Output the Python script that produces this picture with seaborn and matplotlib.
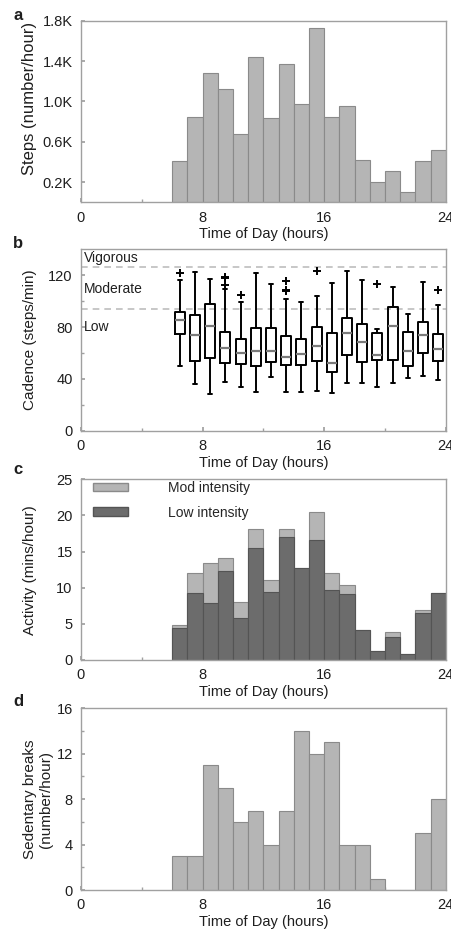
import numpy as np
import pandas as pd
import matplotlib
matplotlib.use('Agg')
import matplotlib.pyplot as plt
from matplotlib.patches import Patch
import seaborn as sns

sns.set_theme(style='white')
plt.rcParams['font.family'] = ['Liberation Sans', 'DejaVu Sans']

### DATA ###
hours = list(range(6, 24))

# a: steps per hour
steps = [408, 843, 1282, 1127, 678, 1444, 837, 1371, 972, 1727,
         847, 959, 424, 200, 312, 101, 414, 517]
steps_ticks = [200, 600, 1000, 1400, 1800]
steps_ticklabels = ['0.2K', '0.6K', '1.0K', '1.4K', '1.8K']

# b: cadence box summary per hour (steps/min)
cad_lo  = [49.6, 35.9, 28.4, 37.2, 33.6, 29.5, 41.1, 30.0, 30.0,
           30.7, 29.2, 37.0, 37.0, 33.6, 37.0, 40.3, 42.4, 39.0]
cad_q1  = [74.4, 53.7, 56.3, 51.9, 51.4, 49.6, 53.0, 50.6, 50.9,
           53.5, 45.2, 58.1, 53.0, 54.3, 54.5, 49.6, 60.2, 53.5]
cad_med = [85.5, 73.9, 81.1, 63.8, 60.0, 61.8, 61.2, 56.6, 58.9,
           65.1, 52.4, 75.5, 68.7, 58.4, 81.1, 61.5, 73.9, 63.3]
cad_q3  = [91.5, 89.4, 97.9, 76.0, 70.8, 79.6, 79.6, 73.4, 70.8,
           80.1, 75.7, 87.3, 82.2, 75.2, 95.1, 76.0, 83.7, 74.7]
cad_hi  = [116.0, 122.7, 117.0, 109.0, 99.2, 121.4, 112.9, 101.4, 99.2,
           103.9, 114.2, 123.3, 116.3, 78.5, 111.1, 89.7, 115.0, 96.9]
out_hour = [6, 9, 9, 9, 10, 13, 13, 13, 15, 19, 23]
out_cad  = [122.0, 118.5, 117.5, 112.2, 105.0, 115.6, 108.9, 108.2, 123.5, 113.4, 108.3]
zone_lines = [126, 94]
zone_names = ['Vigorous', 'Moderate', 'Low']
zone_text_y = [133.5, 109, 80]

# c: activity minutes per hour
low_int = [4.43, 9.23, 7.93, 12.27, 5.76, 15.54, 9.36, 17.02, 12.77,
           16.56, 9.69, 9.18, 4.10, 1.25, 3.23, 0.83, 6.55, 9.20]
mod_int = [0.37, 2.77, 5.54, 1.80, 2.27, 2.63, 1.76, 1.15, 0.00,
           3.92, 2.31, 1.15, 0.00, 0.00, 0.60, 0.00, 0.32, 0.07]

# d: sedentary breaks per hour
breaks = [3, 3, 11, 9, 6, 7, 4, 7, 14, 12, 13, 4, 4, 1, 0, 0, 5, 8]

LIGHT, LIGHT_EDGE = '#b5b5b5', '#8a8a8a'
DARK, DARK_EDGE = '#6c6c6c', '#545454'
SPINE = '#a0a0a0'
TXT = '#1e1e1e'
bins = list(range(6, 25))  # one bin per hour; a list, not an array (seaborn compares bins to "auto")

fig = plt.figure(figsize=(4.52, 9.31), dpi=100)
W = 0.8069
axa = fig.add_axes([0.1792, 0.7827, W, 0.1951])
axb = fig.add_axes([0.1792, 0.5374, W, 0.1948])
axc = fig.add_axes([0.1792, 0.2911, W, 0.1941])
axd = fig.add_axes([0.1792, 0.0440, W, 0.1952])


def style(ax, ylabel, lab_x=-0.12, lab_y=0.5, lab_size=11):
    for s in ax.spines.values():
        s.set_visible(True)
        s.set_color(SPINE)
        s.set_linewidth(1.0)
    ax.set_xlim(0, 24)
    ax.set_xticks([0, 8, 16, 24])
    ax.set_xticks([4, 12, 20], minor=True)
    ax.tick_params(which='both', direction='in', bottom=True, left=True,
                   color=SPINE, labelsize=10.5, labelcolor=TXT, pad=6)
    ax.tick_params(which='major', length=3)
    ax.tick_params(which='minor', length=2)
    ax.set_xlabel('Time of Day (hours)', fontsize=10.5, color=TXT, labelpad=2)
    ax.set_ylabel(ylabel, fontsize=lab_size, color=TXT)
    ax.yaxis.set_label_coords(lab_x, lab_y)
    ax.grid(False)


### a ###
sns.histplot(x=hours, weights=steps, bins=bins, color=LIGHT, edgecolor=LIGHT_EDGE,
             linewidth=0.8, alpha=1, ax=axa)
axa.set_ylim(0, 1800)
axa.set_yticks(steps_ticks)
axa.set_yticklabels(steps_ticklabels)
style(axa, 'Steps (number/hour)', lab_y=0.57, lab_size=12)

### b ###
rows = []
for i, h in enumerate(hours):
    for v in (cad_lo[i], cad_q1[i], cad_med[i], cad_q3[i], cad_hi[i]):
        rows.append({'pos': h + 0.5, 'cadence': v})
cad_df = pd.DataFrame(rows)
sns.boxplot(data=cad_df, x='pos', y='cadence', orient='x', native_scale=True,
            whis=(0, 100), width=0.66, fill=False, color='black', linewidth=1.4,
            medianprops=dict(color='#7a7a7a', linewidth=1.6), capwidths=0.26, ax=axb)
sns.scatterplot(x=[h + 0.5 for h in out_hour], y=out_cad, marker='+', color='black',
                s=35, linewidth=1.4, ax=axb)
for yl in zone_lines:
    axb.axhline(yl, color='#bdbdbd', linestyle=(0, (4, 3)), linewidth=1.2, zorder=0)
for name, ty in zip(zone_names, zone_text_y):
    axb.text(0.2, ty, name, fontsize=10, color=TXT, va='center', ha='left')
axb.set_ylim(0, 140)
axb.set_yticks([0, 40, 80, 120])
axb.set_yticks([20, 60, 100], minor=True)
style(axb, 'Cadence (steps/min)')

### c ###
total = [lo + mo for lo, mo in zip(low_int, mod_int)]
sns.histplot(x=hours, weights=total, bins=bins, color=LIGHT, edgecolor=LIGHT_EDGE,
             linewidth=0.8, alpha=1, ax=axc)
sns.histplot(x=hours, weights=low_int, bins=bins, color=DARK, edgecolor=DARK_EDGE,
             linewidth=0.8, alpha=1, ax=axc)
axc.set_ylim(0, 25)
axc.set_yticks([0, 5, 10, 15, 20, 25])
handles = [Patch(facecolor=LIGHT, edgecolor=LIGHT_EDGE),
           Patch(facecolor=DARK, edgecolor=DARK_EDGE)]
axc.legend(handles, ['Mod intensity', 'Low intensity'], loc='upper left',
           bbox_to_anchor=(0.025, 1.005), frameon=False, fontsize=10,
           handlelength=2.5, handleheight=0.55, handletextpad=2.9,
           labelspacing=0.75, borderpad=0.2, borderaxespad=0)
style(axc, 'Activity (mins/hour)')

### d ###
sns.histplot(x=hours, weights=breaks, bins=bins, color=LIGHT, edgecolor=LIGHT_EDGE,
             linewidth=0.8, alpha=1, ax=axd)
axd.set_ylim(0, 16)
axd.set_yticks([0, 4, 8, 12, 16])
axd.set_yticks([2, 6, 10, 14], minor=True)
style(axd, 'Sedentary breaks\n(number/hour)', lab_x=-0.076)

for lab, yy in zip(['a', 'b', 'c', 'd'], [15, 243, 470, 702]):
    fig.text(0.04, 1 - yy / 931, lab, fontsize=12, fontweight='bold',
             ha='center', va='center', color=TXT)

fig.savefig('out.png', dpi=100)
